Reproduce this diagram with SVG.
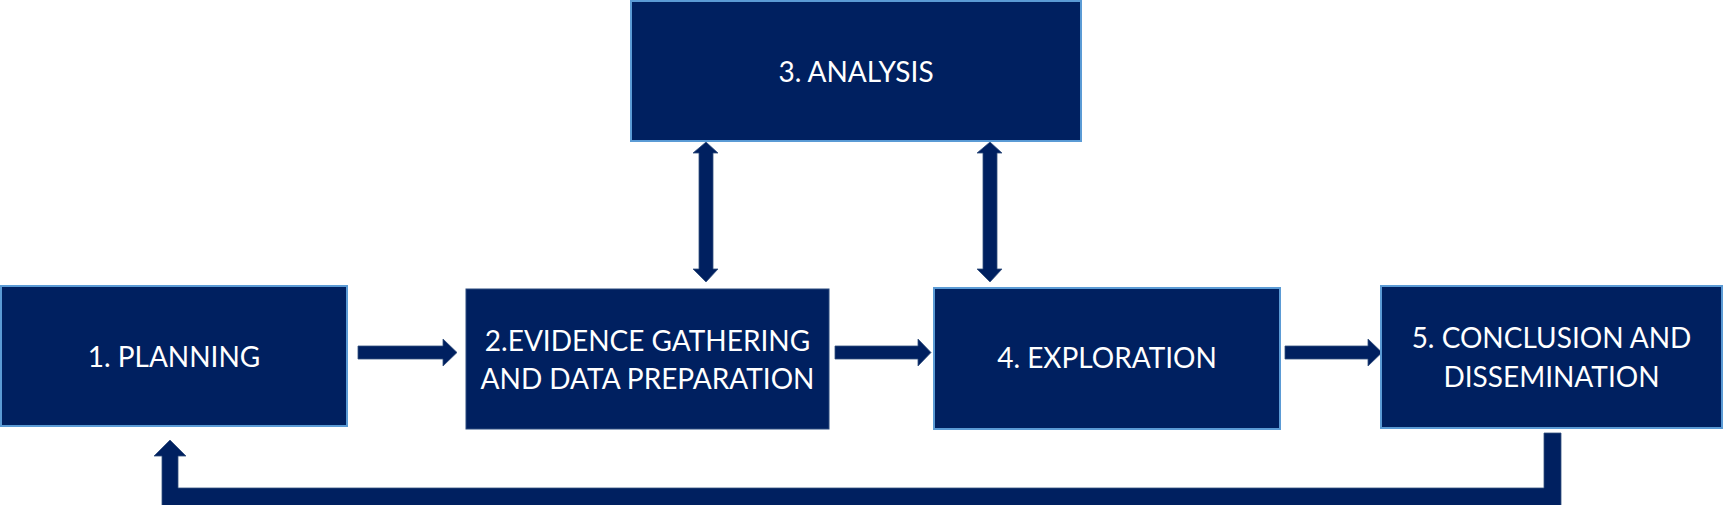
<svg xmlns="http://www.w3.org/2000/svg" width="1725" height="505" viewBox="0 0 1725 505">
  <style>
    .box { fill: #002060; stroke: #5B9BD5; stroke-width: 2; }
    .box2 { fill: #002060; stroke: #2a4a7f; stroke-width: 1; }
    .lbl { fill: #ffffff; font-family: Lato, "Open Sans", "Liberation Sans", sans-serif; font-size: 28px; text-anchor: middle; }
    .arr { fill: #002060; stroke: #34507f; stroke-width: 0.8; }
  </style>
  <rect width="1725" height="505" fill="#ffffff"/>
  <g id="connectors">
    <polygon class="arr" points="358,346 443,346 443,339 457,352.5 443,366 443,359 358,359"/>
    <polygon class="arr" points="835,346 918,346 918,339 931,352.5 918,366 918,359 835,359"/>
    <polygon class="arr" points="1285,346 1368,346 1368,339 1382,352.5 1368,366 1368,359 1285,359"/>
    <polygon class="arr" points="706,142 718,153 713,153 713,269 718,269 706,282 693,269 699,269 699,153 693,153"/>
    <polygon class="arr" points="990,142 1002,153 997,153 997,269 1002,269 990,282 977,269 983,269 983,153 977,153"/>
    <polygon class="arr" points="170,440 186,456 178,456 178,488 1544,488 1544,433 1561,433 1561,506 162,506 162,456 154,456"/>
  </g>
  <g id="node-planning">
    <rect class="box" x="1" y="286" width="346" height="140"/>
    <text class="lbl" x="174" y="367">1. PLANNING</text>
  </g>
  <g id="node-evidence">
    <rect class="box2" x="466" y="289" width="363" height="140"/>
    <text class="lbl" x="647.5" y="351">2.EVIDENCE GATHERING</text>
    <text class="lbl" x="647.5" y="389">AND DATA PREPARATION</text>
  </g>
  <g id="node-analysis">
    <rect class="box" x="631" y="1" width="450" height="140"/>
    <text class="lbl" x="856" y="82">3. ANALYSIS</text>
  </g>
  <g id="node-exploration">
    <rect class="box" x="934" y="288" width="346" height="141"/>
    <text class="lbl" x="1107" y="368">4. EXPLORATION</text>
  </g>
  <g id="node-conclusion">
    <rect class="box" x="1381" y="286" width="341" height="142"/>
    <text class="lbl" x="1551.5" y="348">5. CONCLUSION AND</text>
    <text class="lbl" x="1551.5" y="387">DISSEMINATION</text>
  </g>
</svg>
